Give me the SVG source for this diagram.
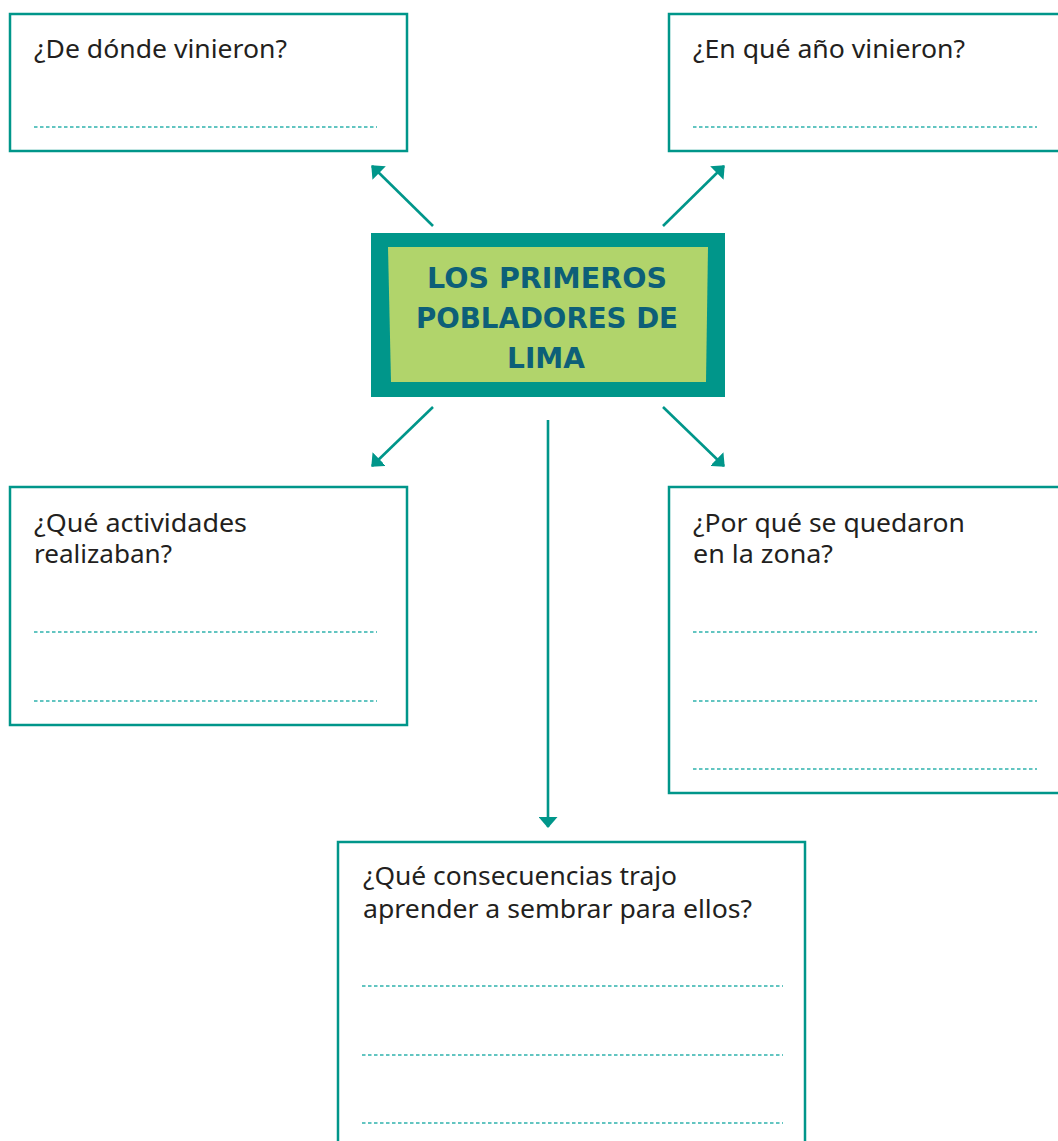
<svg xmlns="http://www.w3.org/2000/svg" width="1058" height="1141" viewBox="0 0 1058 1141">
<style>
.box{fill:#ffffff;stroke:#00968a;stroke-width:2.5}
.q{font-family:"Noto Sans","Open Sans",sans-serif;font-size:25px;fill:#231f20}
.dash{stroke:#2fb3ad;stroke-width:1.5;stroke-dasharray:3.5 2.5;fill:none}
.conn{stroke:#00968a;stroke-width:2.6;fill:none}
.title{font-family:"DejaVu Sans","Liberation Sans",sans-serif;font-weight:bold;font-size:29px;fill:#0d5f78;text-anchor:middle}
</style>
<defs>
<marker id="ah" viewBox="0 0 11 19" refX="10" refY="9.5" markerWidth="11" markerHeight="19" markerUnits="userSpaceOnUse" orient="auto">
<path d="M0,0 L11,9.5 L0,19 Z" fill="#00968a"/>
</marker>
</defs>
<rect width="1058" height="1141" fill="#ffffff"/>

<g id="node-de-donde">
<rect class="box" x="10" y="14" width="397" height="137"/>
<text class="q" x="34" y="58" textLength="253" lengthAdjust="spacingAndGlyphs">¿De dónde vinieron?</text>
<line class="dash" x1="34" y1="127" x2="377" y2="127"/>
</g>

<g id="node-en-que-ano">
<rect class="box" x="669" y="14" width="400" height="137"/>
<text class="q" x="693" y="58" textLength="272" lengthAdjust="spacingAndGlyphs">¿En qué año vinieron?</text>
<line class="dash" x1="693" y1="127" x2="1037" y2="127"/>
</g>

<g id="node-center">
<rect x="371" y="233" width="354" height="164" fill="#00968a"/>
<polygon points="388,247 708,247 706,382 391,382" fill="#b1d46b"/>
<text class="title" x="547" y="288" textLength="240" lengthAdjust="spacingAndGlyphs">LOS PRIMEROS</text>
<text class="title" x="547" y="328" textLength="262" lengthAdjust="spacingAndGlyphs">POBLADORES DE</text>
<text class="title" x="546" y="368" textLength="78" lengthAdjust="spacingAndGlyphs">LIMA</text>
</g>

<g id="node-actividades">
<rect class="box" x="10" y="487" width="397" height="238"/>
<text class="q" x="34" y="532" textLength="213" lengthAdjust="spacingAndGlyphs">¿Qué actividades</text>
<text class="q" x="34" y="563" textLength="138" lengthAdjust="spacingAndGlyphs">realizaban?</text>
<line class="dash" x1="34" y1="632" x2="377" y2="632"/>
<line class="dash" x1="34" y1="701" x2="377" y2="701"/>
</g>

<g id="node-por-que">
<rect class="box" x="669" y="487" width="400" height="306"/>
<text class="q" x="693" y="532" textLength="272" lengthAdjust="spacingAndGlyphs">¿Por qué se quedaron</text>
<text class="q" x="693" y="563" textLength="140" lengthAdjust="spacingAndGlyphs">en la zona?</text>
<line class="dash" x1="693" y1="632" x2="1037" y2="632"/>
<line class="dash" x1="693" y1="701" x2="1037" y2="701"/>
<line class="dash" x1="693" y1="769" x2="1037" y2="769"/>
</g>

<g id="node-consecuencias">
<rect class="box" x="338" y="842" width="467" height="310"/>
<text class="q" x="363" y="885" textLength="314" lengthAdjust="spacingAndGlyphs">¿Qué consecuencias trajo</text>
<text class="q" x="363" y="918" textLength="389" lengthAdjust="spacingAndGlyphs">aprender a sembrar para ellos?</text>
<line class="dash" x1="362" y1="986" x2="783" y2="986"/>
<line class="dash" x1="362" y1="1055" x2="783" y2="1055"/>
<line class="dash" x1="362" y1="1123" x2="783" y2="1123"/>
</g>

<g id="connectors">
<line class="conn" x1="433" y1="226" x2="372" y2="166" marker-end="url(#ah)"/>
<line class="conn" x1="663" y1="226" x2="724" y2="166" marker-end="url(#ah)"/>
<line class="conn" x1="433" y1="407" x2="372" y2="466" marker-end="url(#ah)"/>
<line class="conn" x1="663" y1="407" x2="724" y2="466" marker-end="url(#ah)"/>
<line class="conn" x1="548" y1="420" x2="548" y2="827" marker-end="url(#ah)"/>
</g>
</svg>
